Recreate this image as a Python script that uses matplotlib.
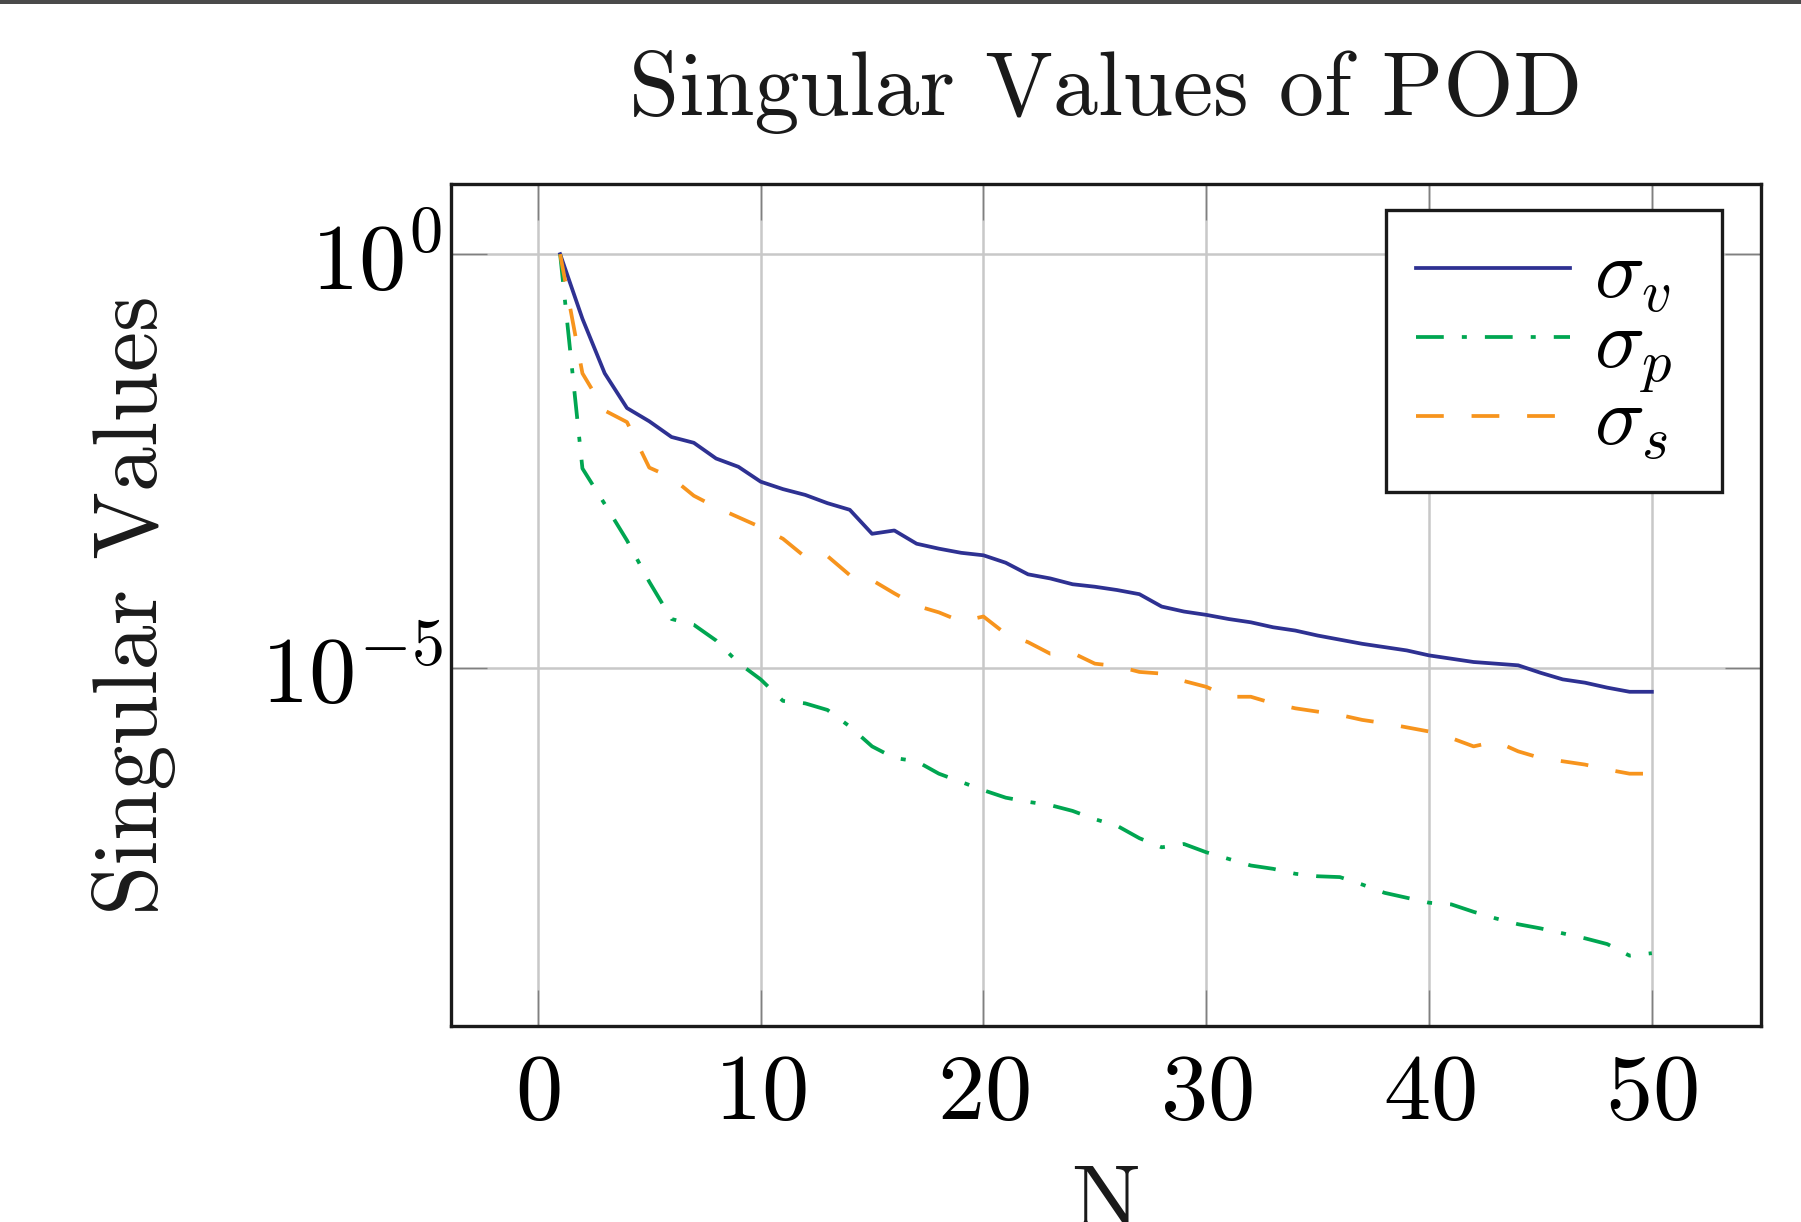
import matplotlib
matplotlib.use('Agg')
import matplotlib.pyplot as plt
import matplotlib.ticker as ticker
from matplotlib.patches import Rectangle
import numpy as np

plt.rcParams['font.family'] = ['cmr10', 'DejaVu Serif']
plt.rcParams['mathtext.fontset'] = 'cm'
plt.rcParams['axes.formatter.use_mathtext'] = True
plt.rcParams['lines.scale_dashes'] = False

# mode number N
n_modes = list(range(1, 51))
# log10 of the singular values
log_sigma_v = [0, -0.78, -1.44, -1.86, -2.02, -2.21, -2.28, -2.47, -2.57, -2.75,
               -2.84, -2.91, -3.01, -3.09, -3.38, -3.34, -3.50, -3.56, -3.61, -3.64,
               -3.73, -3.87, -3.92, -3.99, -4.02, -4.06, -4.11, -4.26, -4.32, -4.36,
               -4.41, -4.45, -4.51, -4.55, -4.61, -4.66, -4.71, -4.75, -4.79, -4.85,
               -4.89, -4.93, -4.95, -4.97, -5.06, -5.14, -5.18, -5.24, -5.29, -5.29]
log_sigma_p = [0, -2.59, -3.02, -3.46, -3.96, -4.41, -4.48, -4.67, -4.94, -5.14,
               -5.40, -5.43, -5.51, -5.71, -5.95, -6.09, -6.13, -6.28, -6.38, -6.48,
               -6.57, -6.62, -6.66, -6.73, -6.83, -6.91, -7.06, -7.17, -7.13, -7.23,
               -7.31, -7.39, -7.43, -7.49, -7.52, -7.53, -7.62, -7.72, -7.78, -7.84,
               -7.86, -7.95, -8.03, -8.10, -8.15, -8.21, -8.27, -8.34, -8.48, -8.45]
log_sigma_s = [0, -1.44, -1.89, -2.03, -2.58, -2.70, -2.92, -3.06, -3.18, -3.30,
               -3.44, -3.66, -3.65, -3.88, -3.94, -4.10, -4.25, -4.33, -4.44, -4.38,
               -4.59, -4.69, -4.83, -4.82, -4.95, -4.98, -5.05, -5.07, -5.16, -5.23,
               -5.35, -5.35, -5.43, -5.49, -5.53, -5.57, -5.63, -5.67, -5.72, -5.77,
               -5.85, -5.95, -5.89, -6.01, -6.09, -6.13, -6.17, -6.23, -6.28, -6.28]
labels = [r'$\sigma_v$', r'$\sigma_p$', r'$\sigma_s$']

sigma_v = 10.0 ** np.array(log_sigma_v)
sigma_p = 10.0 ** np.array(log_sigma_p)
sigma_s = 10.0 ** np.array(log_sigma_s)

fig = plt.figure(figsize=(9.005, 6.11), dpi=200, facecolor='white')
# dark strip along the top edge of the screenshot
fig.patches.append(Rectangle((0, 0.9965), 1, 0.0035, transform=fig.transFigure,
                             facecolor='#4a4a4a', edgecolor='none'))

ax = fig.add_axes([0.2504, 0.1604, 0.7274, 0.6890])
ax.plot(n_modes, sigma_v, color='#2e3192', lw=1.35, label=labels[0])
ax.plot(n_modes, sigma_p, color='#00a651', lw=1.35, dashes=(10, 6.5, 1.8, 6.5), label=labels[1])
ax.plot(n_modes, sigma_s, color='#f7941d', lw=1.35, dashes=(10, 10), label=labels[2])

ax.set_yscale('log')
ax.set_xlim(-3.9, 54.9)
ax.set_ylim(10 ** -9.33, 10 ** 0.848)
ax.xaxis.set_major_locator(ticker.FixedLocator([0, 10, 20, 30, 40, 50]))
ax.yaxis.set_major_locator(ticker.FixedLocator([1, 1e-5]))
ax.yaxis.set_major_formatter(ticker.LogFormatterMathtext())
ax.yaxis.set_minor_locator(ticker.NullLocator())
ax.grid(True, color='#c8c8c8', lw=0.9)
ax.set_axisbelow(True)
ax.tick_params(direction='in', length=13, width=0.5, color='#808080',
               top=True, right=True, labelsize=34)
ax.tick_params(axis='x', pad=10)
ax.tick_params(axis='y', pad=3)
for s in ax.spines.values():
    s.set_linewidth(1.2)
    s.set_color('#1a1a1a')

ax.set_title('Singular Values of POD', fontsize=32.5, pad=25, color='#1a1a1a')
ax.set_xlabel('N', fontsize=33, labelpad=10, color='#1a1a1a')
ax.set_ylabel('Singular Values', fontsize=32.5, labelpad=30.5, color='#1a1a1a')

leg = ax.legend(loc='upper left', bbox_to_anchor=(0.714, 0.0, 0.2562, 0.9691),
                mode='expand', borderaxespad=0,
                fontsize=30, fancybox=False, framealpha=1, edgecolor='#1a1a1a',
                handlelength=1.85, handletextpad=0.29, labelspacing=-0.08, borderpad=0.35)
leg.get_frame().set_linewidth(1.2)

fig.savefig('out.png', dpi=200)
